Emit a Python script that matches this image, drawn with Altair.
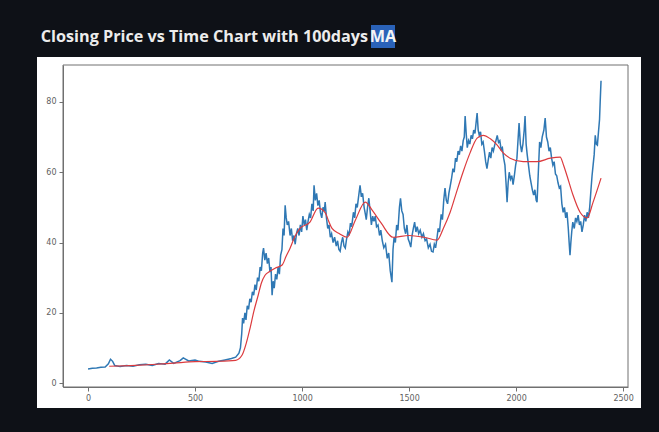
import altair as alt
import pandas as pd

# Closing price as (trading-day index, price) pairs
close_points = [
    (0, 4.0), (20, 4.2), (40, 4.3), (60, 4.5), (80, 4.6), (95, 5.5), (105, 6.8), (115, 6.2),
    (125, 5.0), (150, 4.7), (180, 5.0), (210, 4.8), (240, 5.2), (270, 5.4), (300, 5.0),
    (330, 5.6), (360, 5.4), (380, 6.6), (400, 5.6), (430, 6.4), (445, 7.2), (470, 6.3),
    (500, 6.6), (520, 6.2), (550, 6.0), (580, 5.6), (610, 6.2), (640, 6.6), (670, 7.0),
    (690, 7.4), (705, 8.5), (712, 10), (718, 14), (722, 18.5), (727, 17), (733, 20), (738, 18),
    (744, 22), (750, 21), (756, 24), (762, 23), (768, 26), (774, 25), (780, 28), (786, 26.5),
    (792, 30), (798, 29), (804, 33), (810, 32), (816, 37), (820, 38.4), (826, 35), (832, 37),
    (838, 34), (844, 35.6), (850, 31.6), (855, 33), (860, 25), (865, 29), (870, 27), (876, 31),
    (882, 29.5), (888, 33), (894, 31), (900, 36.4), (906, 38), (911, 44), (916, 42),
    (921, 50.6), (926, 47), (931, 45), (937, 46), (944, 42), (950, 44), (956, 40.5), (962, 42),
    (968, 39.5), (974, 42.5), (980, 44), (986, 42), (992, 45), (998, 43), (1004, 47.5),
    (1010, 45), (1016, 46.5), (1022, 43.5), (1028, 46), (1034, 48), (1040, 47), (1046, 51),
    (1052, 49), (1056, 56.3), (1062, 52), (1068, 54), (1074, 50.5), (1080, 52), (1086, 48.5),
    (1092, 47), (1098, 50), (1104, 49), (1108, 51.5), (1114, 47), (1120, 44), (1126, 45),
    (1132, 41.5), (1138, 42.5), (1145, 40), (1152, 41.5), (1160, 39), (1166, 40.5), (1172, 38),
    (1178, 37.5), (1184, 40), (1190, 41.5), (1196, 39), (1202, 38.4), (1208, 41), (1214, 43),
    (1220, 42), (1226, 45.5), (1232, 44.5), (1240, 48.6), (1246, 47), (1252, 51), (1258, 50),
    (1264, 53), (1271, 56.3), (1277, 53), (1283, 54), (1290, 50), (1296, 48), (1300, 46.5),
    (1306, 50), (1312, 52.6), (1318, 49), (1324, 45), (1330, 47.5), (1336, 46), (1342, 47.5),
    (1348, 44.5), (1355, 45), (1362, 42), (1368, 43.5), (1375, 40.5), (1382, 38.5),
    (1390, 39.5), (1398, 35.5), (1405, 37), (1412, 32), (1420, 28.7), (1425, 38), (1430, 41.5),
    (1436, 40), (1442, 45), (1448, 43.5), (1455, 50), (1460, 52.6), (1466, 49), (1472, 48),
    (1478, 44), (1484, 42.5), (1490, 45), (1496, 41), (1502, 40), (1508, 38.7), (1514, 42),
    (1520, 44), (1526, 45.8), (1532, 43), (1538, 44.5), (1545, 42.5), (1552, 43.5),
    (1560, 41.5), (1567, 42.5), (1575, 40.5), (1582, 41), (1590, 38.5), (1598, 39.5),
    (1605, 37.5), (1612, 37.3), (1618, 39.5), (1624, 38.5), (1630, 41), (1636, 44), (1642, 43),
    (1650, 48), (1656, 46.5), (1662, 52), (1668, 55.5), (1674, 52), (1680, 51), (1686, 54),
    (1692, 56), (1698, 58), (1705, 61), (1711, 60), (1717, 64), (1723, 63), (1729, 66),
    (1735, 65), (1741, 67.5), (1747, 66), (1753, 69), (1758, 70), (1762, 76), (1767, 71),
    (1772, 67), (1778, 69), (1784, 68), (1790, 70.5), (1796, 69.5), (1802, 72), (1808, 71),
    (1813, 74), (1818, 76.8), (1823, 72), (1828, 70.5), (1834, 71.5), (1840, 68), (1846, 68.6),
    (1852, 66), (1858, 63), (1864, 61), (1870, 63.5), (1876, 65.7), (1882, 64), (1888, 67),
    (1894, 66), (1900, 67.7), (1906, 69), (1912, 70.5), (1918, 68.5), (1924, 69), (1930, 66.5),
    (1936, 67), (1942, 64), (1948, 62), (1954, 56), (1958, 51.5), (1963, 57), (1968, 60),
    (1974, 58), (1980, 59), (1986, 56.5), (1992, 59), (1998, 62), (2004, 64), (2010, 70),
    (2014, 74), (2020, 68), (2026, 65.7), (2032, 68), (2038, 72), (2042, 76), (2047, 68),
    (2052, 65), (2058, 62), (2064, 59), (2070, 57), (2076, 55), (2082, 53.5), (2088, 55),
    (2094, 52), (2098, 51.5), (2104, 60), (2110, 68.6), (2116, 67), (2122, 70), (2130, 72),
    (2136, 75.4), (2142, 70), (2148, 68.6), (2154, 66), (2160, 67), (2166, 64), (2172, 62),
    (2178, 63), (2184, 59.5), (2190, 59), (2196, 57), (2202, 55.5), (2208, 56), (2214, 51),
    (2220, 48.6), (2226, 50), (2232, 47), (2238, 48.6), (2244, 44), (2248, 40), (2252, 36.4),
    (2256, 40), (2260, 43), (2265, 45.8), (2272, 44), (2278, 47), (2284, 46), (2290, 47.8),
    (2296, 45), (2302, 46), (2308, 43), (2314, 45), (2320, 47.8), (2326, 46), (2332, 48.6),
    (2338, 47), (2344, 50), (2350, 55), (2355, 59), (2360, 62), (2365, 65), (2370, 70.5),
    (2375, 68), (2380, 67.7), (2385, 71.4), (2390, 75), (2393, 80), (2397, 86),
]

# 100-day moving average of the close, as (day, value) pairs
ma_points = [
    (99, 4.8), (200, 5.0), (300, 5.3), (400, 5.7), (500, 6.1), (600, 6.2), (690, 6.5),
    (720, 8.0), (740, 11.5), (757, 15.6), (775, 20.5), (795, 25.0), (810, 28.5), (827, 30.7),
    (850, 31.8), (874, 32.7), (907, 33.6), (925, 36.0), (944, 38.4), (965, 41.5), (990, 44.0),
    (1037, 45.8), (1075, 49.8), (1107, 48.6), (1125, 46.0), (1140, 44.0), (1175, 42.5),
    (1210, 41.5), (1250, 46.5), (1295, 51.5), (1330, 49.0), (1370, 45.5), (1425, 41.5),
    (1500, 42.0), (1570, 41.5), (1631, 40.7), (1660, 44.0), (1692, 48.6), (1720, 54.0),
    (1752, 60.0), (1785, 65.5), (1818, 69.7), (1846, 70.5), (1880, 69.5), (1912, 67.7),
    (1940, 65.5), (1972, 64.0), (2033, 63.0), (2098, 63.0), (2160, 64.0), (2206, 64.3),
    (2222, 62.0), (2238, 59.0), (2266, 53.5), (2299, 48.6), (2332, 47.0), (2360, 51.5),
    (2397, 58.3),
]

title_text = "Closing Price vs Time Chart with 100days"
title_tag = "MA"
x_ticks = [0, 500, 1000, 1500, 2000, 2500]
y_ticks = [0, 20, 40, 60, 80]

W, H = 565, 322
x_scale = alt.Scale(domain=[-117, 2523], nice=False, zero=False)
y_scale = alt.Scale(domain=[-1.1, 90.5], nice=False, zero=False)

close_df = pd.DataFrame(close_points, columns=["day", "close"])
ma_df = pd.DataFrame(ma_points, columns=["day", "ma"])
one = pd.DataFrame({"k": [0]})

frame_color = "#707070"
axis_common = dict(labelFont="DejaVu Sans", labelFontSize=8, labelColor="#606060",
                   domainColor=frame_color, tickColor=frame_color, tickSize=4,
                   grid=False, title=None, zindex=1, labelPadding=3, format="d")

# white figure card behind the axes
card = alt.Chart(one).mark_rect(color="white").encode(
    x=alt.value(-26), x2=alt.value(578), y=alt.value(-8), y2=alt.value(343))

close_line = alt.Chart(close_df).mark_line(color="#2f78b4", strokeWidth=1.5).encode(
    x=alt.X("day:Q", scale=x_scale,
            axis=alt.Axis(values=x_ticks, **axis_common)),
    y=alt.Y("close:Q", scale=y_scale,
            axis=alt.Axis(values=y_ticks, **axis_common)))

ma_line = alt.Chart(ma_df).mark_line(color="#dc3b3e", strokeWidth=1.2,
                                     interpolate="monotone").encode(
    x=alt.X("day:Q", scale=x_scale),
    y=alt.Y("ma:Q", scale=y_scale))

frame = alt.Chart(one).mark_rect(filled=False, stroke=frame_color, strokeWidth=1).encode(
    x=alt.value(0), x2=alt.value(W), y=alt.value(0), y2=alt.value(H))

title_main = alt.Chart(one).mark_text(
    align="right", baseline="middle", font="Open Sans", fontWeight="bold",
    fontSize=16.2, color="#ececec").encode(
    x=alt.value(305), y=alt.value(-28), text=alt.value(title_text))

tag_box = alt.Chart(one).mark_rect(color="#2a62b8").encode(
    x=alt.value(308), x2=alt.value(332), y=alt.value(-40), y2=alt.value(-17))

tag_text = alt.Chart(one).mark_text(
    align="center", baseline="middle", font="Open Sans", fontWeight="bold",
    fontSize=16.2, color="#f4f4f4").encode(
    x=alt.value(320), y=alt.value(-28), text=alt.value(title_tag))

chart = alt.layer(card, close_line, ma_line, frame, title_main, tag_box, tag_text).properties(
    width=W, height=H,
    padding={"left": 63, "top": 65, "right": 31, "bottom": 45},
    autosize=alt.AutoSizeParams(type="none"),
    background="#0e1117",
).configure_view(stroke=None)

chart.save("out.html", embed_options={"renderer": "svg", "actions": False})
